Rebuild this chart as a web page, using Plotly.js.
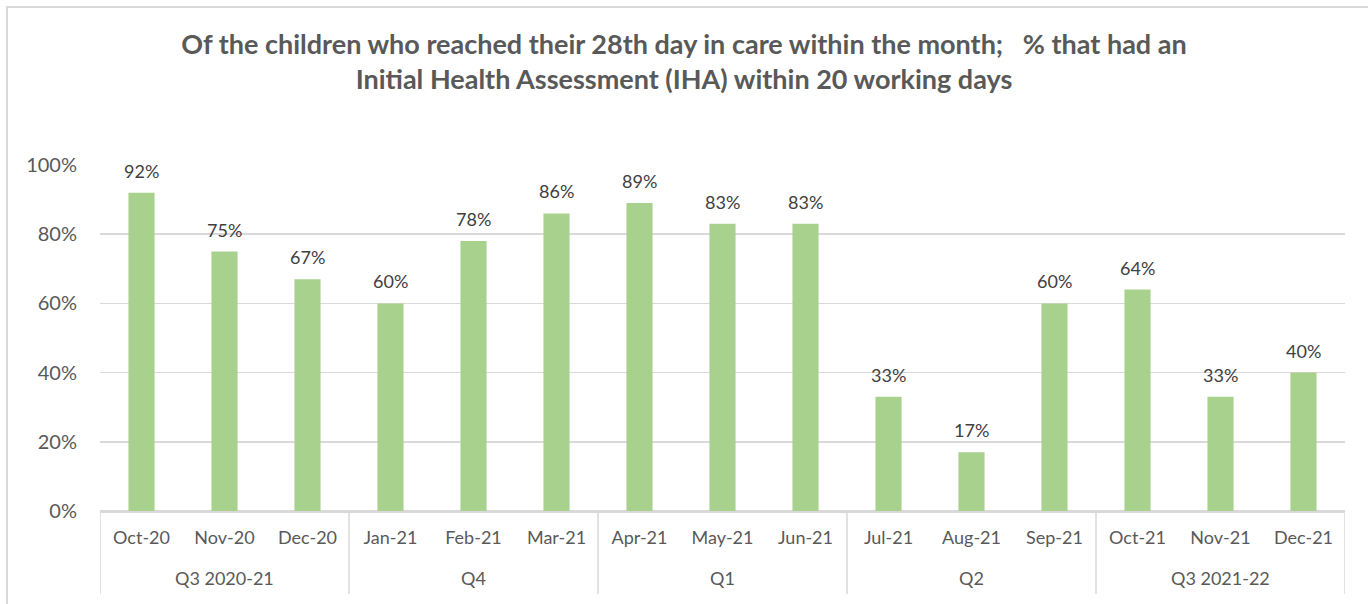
<!DOCTYPE html>
<html>
<head>
<meta charset="utf-8">
<script src="https://cdn.plot.ly/plotly-3.0.1.min.js"></script>
<style>
html,body{margin:0;padding:0;background:#fff;}
#frame{position:absolute;left:6px;top:6px;width:1500px;height:800px;border-left:2px solid #D9D9D9;border-top:2px solid #D9D9D9;z-index:0;}
#chart{position:absolute;left:0;top:0;width:1368px;height:604px;z-index:1;}
</style>
</head>
<body>
<div id="frame"></div>
<div id="chart"></div>
<script>
const groups = ["Q3 2020-21","Q4","Q1","Q2","Q3 2021-22"];
const groupSizes = [3,3,3,3,3];
const months = ["Oct-20","Nov-20","Dec-20","Jan-21","Feb-21","Mar-21","Apr-21","May-21","Jun-21","Jul-21","Aug-21","Sep-21","Oct-21","Nov-21","Dec-21"];
const values = [0.92,0.75,0.67,0.60,0.78,0.86,0.89,0.83,0.83,0.33,0.17,0.60,0.64,0.33,0.40];
const labels = ["92%","75%","67%","60%","78%","86%","89%","83%","83%","33%","17%","60%","64%","33%","40%"];

const FONT = "Lato, 'Open Sans', sans-serif";
const GRID = "#D9D9D9";

const trace = {
  type: "bar",
  x: months,
  y: values,
  marker: {color: "#A9D18E"},
  hoverinfo: "none"
};

const annotations = values.map((v, i) => ({
  x: months[i], y: v, xref: "x", yref: "y",
  text: labels[i], showarrow: false,
  yanchor: "bottom", yshift: 9,
  font: {family: FONT, size: 18, color: "#404040"}
}));

const shapes = [];
let start = 0;
groups.forEach((g, k) => {
  const n = groupSizes[k];
  const mid = start + (n - 1) / 2;
  annotations.push({
    x: mid, y: -0.1936, xref: "x", yref: "paper",
    text: g, showarrow: false, yanchor: "middle",
    font: {family: FONT, size: 18, color: "#595959"}
  });
  shapes.push({type: "line", xref: "x", yref: "paper", x0: start - 0.5, x1: start - 0.5, y0: 0, y1: -0.24, line: {color: GRID, width: 1.5}});
  start += n;
});
shapes.push({type: "line", xref: "x", yref: "paper", x0: start - 0.5, x1: start - 0.5, y0: 0, y1: -0.24, line: {color: GRID, width: 1.5}});

const layout = {
  width: 1368, height: 604,
  margin: {l: 100, r: 23, t: 165, b: 93},
  paper_bgcolor: "rgba(0,0,0,0)", plot_bgcolor: "rgba(0,0,0,0)",
  showlegend: false,
  bargap: 0.685,
  title: {
    text: "<b>Of the children who reached their 28th day in care within the month;   % that had an<br>Initial Health Assessment (IHA) within 20 working days</b>",
    x: 0.5, xanchor: "center", y: 0.91, yanchor: "top",
    font: {family: FONT, size: 27, color: "#595959"}
  },
  xaxis: {
    type: "category",
    range: [-0.5, months.length - 0.5],
    showline: true, linecolor: GRID, linewidth: 1.5,
    tickfont: {family: FONT, size: 18, color: "#595959"},
    ticks: "", showgrid: false, ticklabelstandoff: 10
  },
  yaxis: {
    range: [0, 1], dtick: 0.2, tickformat: ".0%",
    showgrid: true, gridcolor: GRID, gridwidth: 1.5,
    zeroline: true, zerolinecolor: GRID, zerolinewidth: 1.5,
    tickfont: {family: FONT, size: 20, color: "#595959"},
    ticks: "", ticklabelstandoff: 22
  },
  annotations: annotations,
  shapes: shapes
};

Plotly.newPlot("chart", [trace], layout, {staticPlot: true, displayModeBar: false});
</script>
</body>
</html>
